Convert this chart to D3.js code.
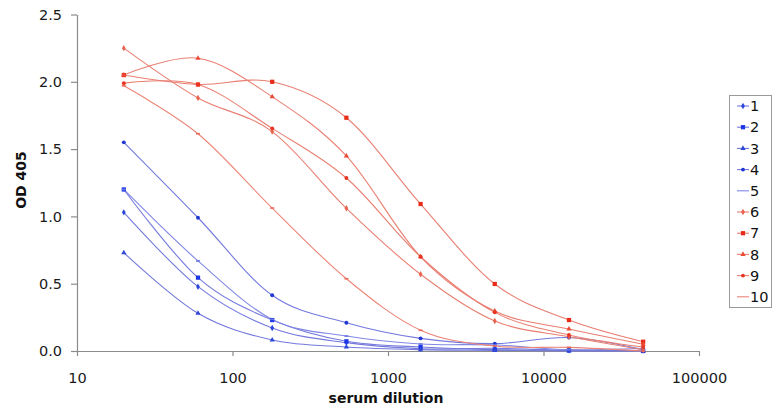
<!DOCTYPE html>
<html>
<head>
<meta charset="utf-8">
<script src="https://cdn.jsdelivr.net/npm/d3@7"></script>
<style>
  body { margin: 0; background: #fff; }
  svg text { font-family: "DejaVu Sans", Verdana, sans-serif; }
</style>
</head>
<body>
<div id="chart"></div>
<script>
// data (3-fold serum dilutions)
const dilutions = [20, 60, 180, 540, 1620, 4860, 14580, 43740];
const series1 = [1.03, 0.478, 0.171, 0.062, 0.017, 0.02, 0.005, 0.005];
const series2 = [1.20, 0.545, 0.23, 0.072, 0.03, 0.01, 0.005, 0.0];
const series3 = [0.73, 0.28, 0.082, 0.03, 0.01, 0.005, 0.0, 0.0];
const series4 = [1.55, 0.99, 0.414, 0.21, 0.094, 0.055, 0.10, 0.01];
const series5 = [1.20, 0.669, 0.235, 0.111, 0.052, 0.045, 0.01, 0.02];
const series6 = [2.25, 1.88, 1.63, 1.06, 0.57, 0.223, 0.106, 0.01];
const series7 = [2.05, 1.98, 2.00, 1.733, 1.092, 0.498, 0.23, 0.069];
const series8 = [2.05, 2.175, 1.889, 1.449, 0.70, 0.297, 0.163, 0.05];
const series9 = [1.99, 1.98, 1.654, 1.285, 0.70, 0.287, 0.119, 0.03];
const series10 = [1.97, 1.614, 1.062, 0.537, 0.154, 0.037, 0.027, 0.0];
const seriesNames = ["1", "2", "3", "4", "5", "6", "7", "8", "9", "10"];
const xTicks = [10, 100, 1000, 10000, 100000];
const yTicks = [0, 0.5, 1.0, 1.5, 2.0, 2.5];

const allSeries = [series1, series2, series3, series4, series5,
    series6, series7, series8, series9, series10];

const W = 775, H = 413;
const plot = { left: 77, right: 699, top: 14.5, bottom: 351 };

const markerColors = ["#2a46dc", "#1a36e6", "#2f48d8", "#2038d2", "#6a78e4",
    "#e8624e", "#e82a18", "#e84a36", "#e83420", "#ec6a5a"];
const lineColors = ["#7479dc", "#7479dc", "#7479dc", "#7479dc", "#8088e4",
    "#e97f72", "#e97f72", "#e97f72", "#e97f72", "#ec8578"];
const shapes = [d3.symbolDiamond, d3.symbolSquare, d3.symbolTriangle, d3.symbolCircle, null];

const svg = d3.select("#chart").append("svg")
    .attr("width", W)
    .attr("height", H);

const x = d3.scaleLog().domain([10, 100000]).range([plot.left, plot.right]);
const y = d3.scaleLinear().domain([0, 2.5]).range([plot.bottom, plot.top]);

// axes
const yAxis = d3.axisLeft(y)
    .tickValues(yTicks)
    .tickFormat(d3.format(".1f"))
    .tickSize(6)
    .tickSizeOuter(0)
    .tickPadding(9);
const gy = svg.append("g")
    .attr("transform", "translate(" + plot.left + ",0)")
    .call(yAxis);

const xAxis = d3.axisBottom(x)
    .tickValues(xTicks)
    .tickFormat(d3.format("d"))
    .tickSize(5)
    .tickSizeOuter(0)
    .tickPadding(17);
const gx = svg.append("g")
    .attr("transform", "translate(0," + plot.bottom + ")")
    .call(xAxis);

[gx, gy].forEach(g => {
    g.selectAll("path, line").attr("stroke", "#8c8c8c").attr("stroke-width", 1.2);
    g.selectAll("text").attr("font-size", 14.5).attr("fill", "#1a1a1a")
        .attr("font-family", "'DejaVu Sans', Verdana, sans-serif");
});

svg.append("text")
    .attr("x", 386)
    .attr("y", 403)
    .attr("text-anchor", "middle")
    .attr("font-size", 14)
    .attr("font-weight", "bold")
    .attr("fill", "#111")
    .text("serum dilution");

svg.append("text")
    .attr("transform", "translate(26,180) rotate(-90)")
    .attr("text-anchor", "middle")
    .attr("font-size", 14)
    .attr("font-weight", "bold")
    .attr("fill", "#111")
    .text("OD 405");

// lines
const line = d3.line()
    .x((d, i) => x(dilutions[i]))
    .y(d => y(d))
    .curve(d3.curveCardinal.tension(0));

const gLines = svg.append("g");
allSeries.forEach((s, k) => {
    gLines.append("path")
        .attr("d", line(s))
        .attr("fill", "none")
        .attr("stroke", lineColors[k])
        .attr("stroke-width", 1.1);
});

// markers
allSeries.forEach((s, k) => {
    const shape = shapes[k % 5];
    const g = svg.append("g");
    s.forEach((v, i) => {
        if (shape) {
            g.append("path")
                .attr("transform", "translate(" + x(dilutions[i]) + "," + y(v) + ")")
                .attr("d", d3.symbol(shape, k % 5 === 1 ? 18 : 12)())
                .attr("fill", markerColors[k]);
        } else {
            g.append("rect")
                .attr("x", x(dilutions[i]) - 2)
                .attr("y", y(v) - 0.8)
                .attr("width", 4)
                .attr("height", 1.6)
                .attr("fill", markerColors[k]);
        }
    });
});

// legend
const leg = svg.append("g");
leg.append("rect")
    .attr("x", 729.5)
    .attr("y", 95.5)
    .attr("width", 42)
    .attr("height", 212)
    .attr("fill", "#fff")
    .attr("stroke", "#9a9a9a")
    .attr("stroke-width", 1);

seriesNames.forEach((name, k) => {
    const cy = 106 + k * 21.2;
    leg.append("line")
        .attr("x1", 737).attr("x2", 749)
        .attr("y1", cy).attr("y2", cy)
        .attr("stroke", lineColors[k])
        .attr("stroke-width", 1.1);
    const shape = shapes[k % 5];
    if (shape) {
        leg.append("path")
            .attr("transform", "translate(743," + cy + ")")
            .attr("d", d3.symbol(shape, k % 5 === 1 ? 18 : 12)())
            .attr("fill", markerColors[k]);
    }
    leg.append("text")
        .attr("x", 750)
        .attr("y", cy)
        .attr("dy", "0.36em")
        .attr("font-size", 14.5)
        .attr("fill", "#111")
        .text(name);
});
</script>
</body>
</html>
